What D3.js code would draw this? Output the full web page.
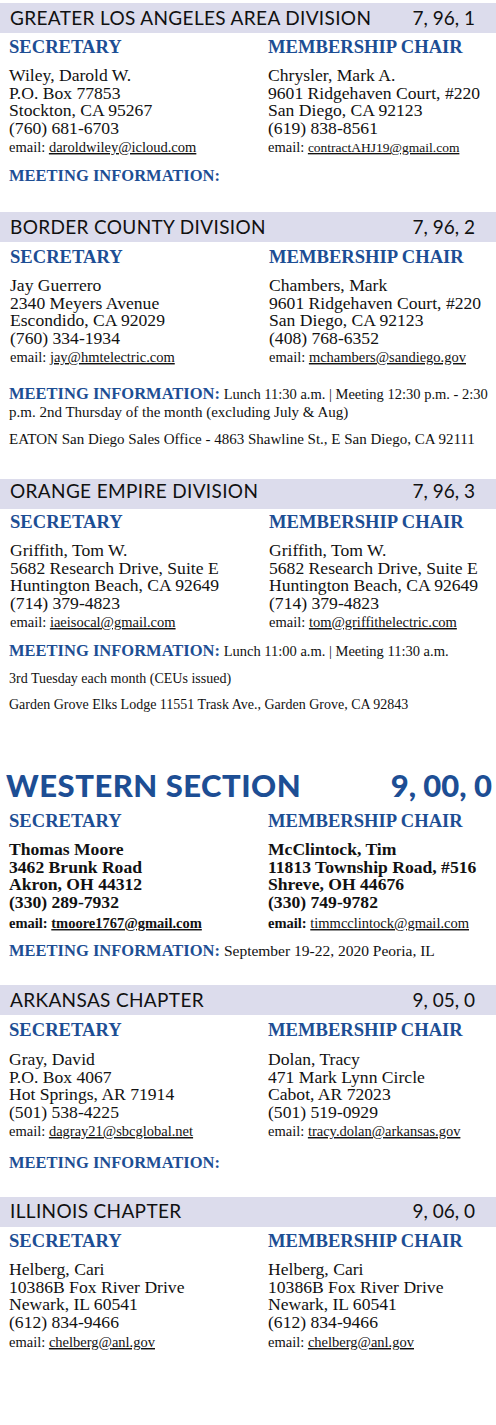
<!DOCTYPE html>
<html><head><meta charset="utf-8">
<script src="https://cdn.jsdelivr.net/npm/d3@7"></script>
<style>body{margin:0;background:#fff}svg{display:block}</style>
</head><body>
<script>
const titles = ["GREATER LOS ANGELES AREA DIVISION","BORDER COUNTY DIVISION","ORANGE EMPIRE DIVISION","WESTERN SECTION","ARKANSAS CHAPTER","ILLINOIS CHAPTER"];
const codes = ["7, 96, 1","7, 96, 2","7, 96, 3","9, 00, 0","9, 05, 0","9, 06, 0"];
const secLines = [
 ["Wiley, Darold W.","P.O. Box 77853","Stockton, CA 95267","(760) 681-6703"],
 ["Jay Guerrero","2340 Meyers Avenue","Escondido, CA 92029","(760) 334-1934"],
 ["Griffith, Tom W.","5682 Research Drive, Suite E","Huntington Beach, CA 92649","(714) 379-4823"],
 ["Thomas Moore","3462 Brunk Road","Akron, OH 44312","(330) 289-7932"],
 ["Gray, David","P.O. Box 4067","Hot Springs, AR 71914","(501) 538-4225"],
 ["Helberg, Cari","10386B Fox River Drive","Newark, IL  60541","(612) 834-9466"]];
const secEmails = ["daroldwiley@icloud.com","jay@hmtelectric.com","iaeisocal@gmail.com","tmoore1767@gmail.com","dagray21@sbcglobal.net","chelberg@anl.gov"];
const chairLines = [
 ["Chrysler, Mark A.","9601 Ridgehaven Court, #220","San Diego, CA 92123","(619) 838-8561"],
 ["Chambers, Mark","9601 Ridgehaven Court, #220","San Diego, CA 92123","(408) 768-6352"],
 ["Griffith, Tom W.","5682 Research Drive, Suite E","Huntington Beach, CA 92649","(714) 379-4823"],
 ["McClintock, Tim","11813 Township Road, #516","Shreve, OH 44676","(330) 749-9782"],
 ["Dolan, Tracy","471 Mark Lynn Circle","Cabot, AR 72023","(501) 519-0929"],
 ["Helberg, Cari","10386B Fox River Drive","Newark, IL  60541","(612) 834-9466"]];
const chairEmails = ["contractAHJ19@gmail.com","mchambers@sandiego.gov","tom@griffithelectric.com","timmcclintock@gmail.com","tracy.dolan@arkansas.gov","chelberg@anl.gov"];
const meetingFirst = ["", "Lunch 11:30 a.m. | Meeting 12:30 p.m. - 2:30", "Lunch 11:00 a.m. | Meeting 11:30 a.m.", "September 19-22, 2020 Peoria, IL", "", null];
const meetingMore = [[],["p.m. 2nd Thursday of the month (excluding July & Aug)","EATON San Diego Sales Office - 4863 Shawline St., E San Diego, CA 92111"],["3rd Tuesday each month (CEUs issued)","Garden Grove Elks Lodge 11551 Trask Ave., Garden Grove, CA 92843"],[],[],[]];

const layout = [
 {band:3, title:25, head:53, body:81, email:152, meet:181, more:[]},
 {band:212, title:234, head:263, body:291, email:362, meet:399, more:[417,444]},
 {band:479, title:498, head:528, body:556, email:627, meet:656, more:[683,709]},
 {band:null, title:797, head:827, body:855, email:928, meet:956, more:[]},
 {band:985, title:1007, head:1036, body:1065, email:1136, meet:1168, more:[]},
 {band:1197, title:1218, head:1247, body:1275, email:1347, meet:null, more:[]}];
const moreSize=[0,15,14,0,0,0];

const W=496,H=1425, blue="#1d4e94", serif="'Liberation Serif','DejaVu Serif',serif", sans="Lato,'Open Sans',sans-serif";
const svg=d3.select("body").append("svg").attr("width",W).attr("height",H);
const xL=d3.scalePoint().domain(["sec","chair"]).range([9,268]);

titles.forEach((t,i)=>{
  const L=layout[i], big = L.band===null;
  const g=svg.append("g");
  if(!big) g.append("rect").attr("x",0).attr("y",L.band).attr("width",W).attr("height",30).attr("fill","#dcdcec");
  g.append("text").attr("x",big?6:10).attr("y",L.title).attr("font-family",sans)
    .attr("font-size",big?31:19).attr("font-weight",big?900:400).attr("fill",big?blue:"#111")
    .attr("letter-spacing",big?0.5:0.35).text(t);
  g.append("text").attr("x",big?492:475).attr("y",L.title).attr("text-anchor","end").attr("font-family",sans)
    .attr("font-size",big?31:19).attr("font-weight",big?900:400).attr("fill",big?blue:"#111").text(codes[i]);
  const bold = big?"bold":"normal";
  [["sec","SECRETARY",secLines[i],secEmails[i]],["chair","MEMBERSHIP CHAIR",chairLines[i],chairEmails[i]]].forEach(([k,h,lines,em])=>{
    const x=xL(k)+(i===1||i===2?1:0);
    g.append("text").attr("x",x).attr("y",L.head).attr("font-family",serif).attr("font-weight","bold")
      .attr("font-size",18.6).attr("fill",blue).text(h);
    lines.forEach((ln,j)=>g.append("text").attr("x",x).attr("y",L.body+j*17.7).attr("font-family",serif)
      .attr("font-size",17.6).attr("font-weight",bold).attr("fill","#111").text(ln));
    const te=g.append("text").attr("x",x).attr("y",L.email).attr("font-family",serif).attr("font-size",14.5).attr("fill","#111");
    te.append("tspan").attr("font-weight",bold).text("email: ");
    te.append("tspan").attr("font-weight",(big&&k==="sec")?"bold":"normal").attr("text-decoration","underline")
      .attr("font-size",(k==="chair"&&i===0)?13.5:14.5).text(em);
  });
  if(L.meet!==null){
    const tm=g.append("text").attr("x",9).attr("y",L.meet).attr("font-family",serif).attr("fill","#111");
    tm.append("tspan").attr("font-weight","bold").attr("font-size",16.5).attr("fill",blue).text("MEETING INFORMATION:");
    if(meetingFirst[i]) tm.append("tspan").attr("font-size",big?15.5:14.5).text(" "+meetingFirst[i]);
    meetingMore[i].forEach((m,j)=>g.append("text").attr("x",9).attr("y",L.more[j]).attr("font-family",serif)
      .attr("font-size",moreSize[i]).attr("fill","#111").text(m));
  }
});
</script>
</body></html>
